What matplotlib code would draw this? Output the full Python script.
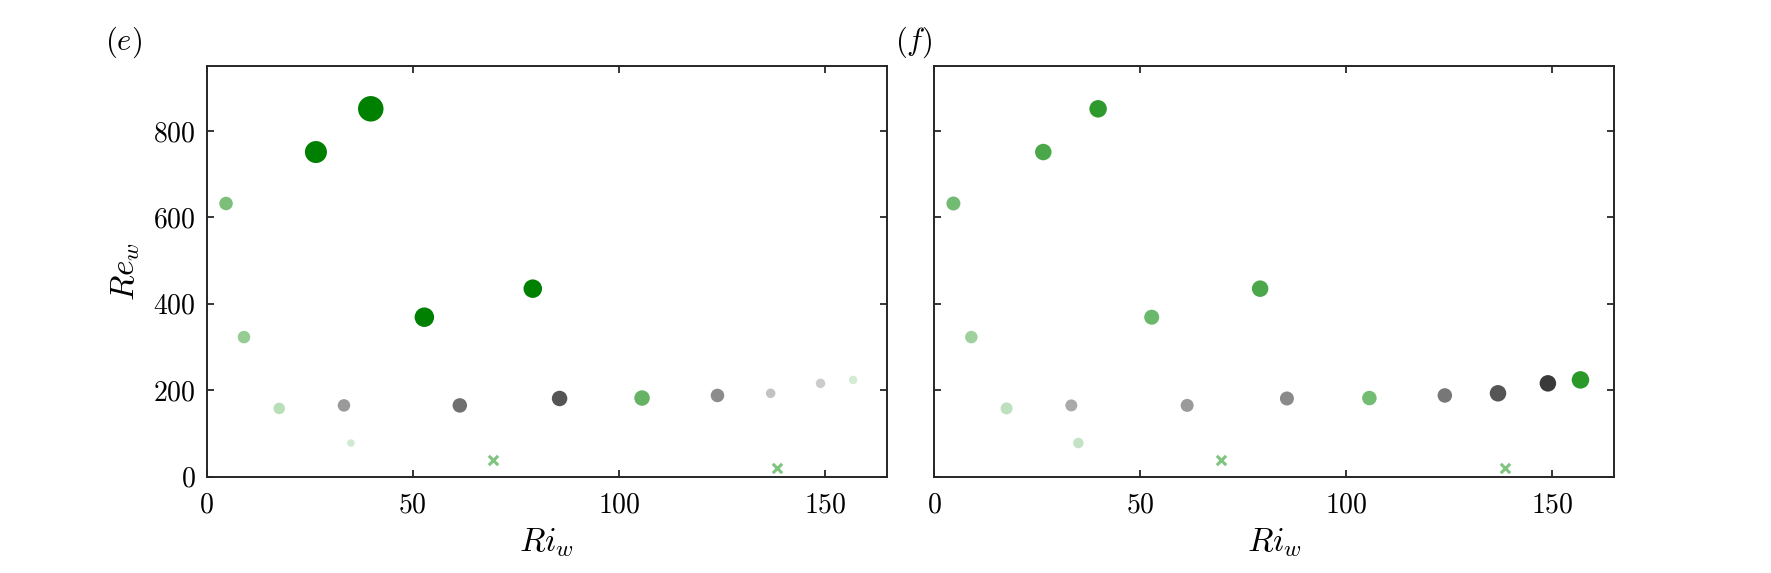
import numpy as np
import matplotlib
matplotlib.use('Agg')
import matplotlib.pyplot as plt

plt.rcParams['font.family'] = 'serif'
plt.rcParams['font.serif'] = ['cmr10']
plt.rcParams['mathtext.fontset'] = 'cm'
plt.rcParams['axes.formatter.use_mathtext'] = True

## data (same points in both panels)
ri_w = [4.7, 9.05, 17.6, 26.5, 33.3, 35.0, 39.8, 52.8, 61.4, 79.1,
        85.6, 105.6, 123.9, 136.8, 148.9, 156.8]
re_w = [632, 323, 158, 751, 165, 78, 851, 369, 165, 435,
        181, 182, 188, 193, 216, 224]

## crosses
ri_x = [69.5, 138.4]
re_x = [38, 21]

## marker diameters (px) and colours, panel (e)
dia_e = [13.5, 12.5, 11.5, 22, 12.5, 7.5, 25.5, 19.5, 14.5, 18.5, 15.5, 15.5,
         13.5, 9.5, 9.5, 8.5]
col_e = ['#7bbf7b', '#94cc94', '#b8dfb8', '#008000', '#9a9a9a', '#d0ead0',
         '#008000', '#008000', '#707070', '#008000', '#555555', '#66b366',
         '#8c8c8c', '#c2c2c2', '#cccccc', '#d5ebd5']

## panel (f)
dia_f = [14, 12.5, 12, 16.5, 12, 10.5, 17.5, 15, 13, 16.5, 14, 14.5,
         14.5, 16.5, 16.5, 17.5]
col_f = ['#73bb73', '#9fd19f', '#bfe0bf', '#4aa84a', '#aaaaaa', '#c4e3c4',
         '#2e9a2e', '#6ab86a', '#9a9a9a', '#4aa84a', '#8a8a8a', '#72bd72',
         '#777777', '#555555', '#3a3a3a', '#2a992a']

cross_col = '#7fc47f'


def panel(ax, dia, col, label, lx, ylab):
    s = [(d * 0.72) ** 2 for d in dia]
    ax.scatter(ri_w, re_w, s=s, c=col, edgecolors='none', zorder=3)
    ax.scatter(ri_x, re_x, s=45, marker='x', c=cross_col, linewidths=2.2, zorder=3)
    ax.set_xlim(0, 165)
    ax.set_ylim(0, 950)
    ax.set_xticks([0, 50, 100, 150])
    ax.set_yticks([0, 200, 400, 600, 800])
    ax.tick_params(direction='in', top=True, right=True, length=5, width=1.3,
                   labelsize=20, color='#262626')
    ax.tick_params(axis='x', pad=11)
    ax.tick_params(axis='y', pad=8)
    for sp in ax.spines.values():
        sp.set_color('#262626')
        sp.set_linewidth(1.4)
    ax.set_xlabel(r'$Ri_w$', fontsize=24, labelpad=6)
    if ylab:
        ax.set_ylabel(r'$Re_w$', fontsize=24, labelpad=8)
    else:
        ax.set_yticklabels([])
    ax.text(lx, 1.058, label, transform=ax.transAxes, fontsize=22,
            ha='center', va='center')


fig = plt.figure(figsize=(17.71, 5.73), dpi=100)
ax1 = fig.add_axes([0.1167, 0.168, 0.3841, 0.7168])
ax2 = fig.add_axes([0.5274, 0.168, 0.3841, 0.7168])

panel(ax1, dia_e, col_e, r'$(e)$', -0.123, True)
panel(ax2, dia_f, col_f, r'$(f)$', -0.03, False)

plt.savefig('out.png', dpi=100)
